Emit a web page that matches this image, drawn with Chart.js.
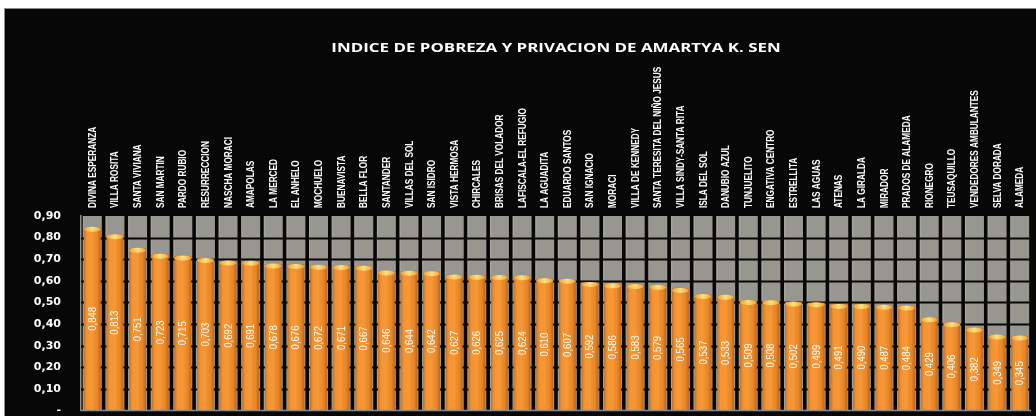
<!DOCTYPE html>
<html>
<head>
  <title>Indice de pobreza</title>
  <script src="https://cdn.jsdelivr.net/npm/chart.js"></script>
  <style>
    html, body {
      margin: 0;
      padding: 0;
      background: #fff;
      width: 1036px;
      height: 416px;
      overflow: hidden;
    }
    #marco {
      position: absolute;
      left: 4px;
      top: 8px;
      width: 1031px;
      height: 407px;
      background: #070707;
      border-top: 1px solid #8a8a8a;
      border-left: 1px solid #8a8a8a;
    }
    canvas { display: block; }
  </style>
</head>
<body>
  <div id="marco">
    <canvas id="chart" width="1031" height="407"></canvas>
  </div>

  <script>
    // barrios, en el orden del grafico original
    const categorias = [
      'DIVINA ESPERANZA', 'VILLA ROSITA', 'SANTA VIVIANA', 'SAN MARTIN', 'PARDO RUBIO',
      'RESURRECCION', 'NASCHA MORACI', 'AMAPOLAS', 'LA MERCED', 'EL ANHELO',
      'MOCHUELO', 'BUENAVISTA', 'BELLA FLOR', 'SANTANDER', 'VILLAS DEL SOL',
      'SAN ISIDRO', 'VISTA HERMOSA', 'CHIRCALES', 'BRISAS DEL VOLADOR', 'LAFISCALA-EL REFUGIO',
      'LA AGUADITA', 'EDUARDO SANTOS', 'SAN IGNACIO', 'MORACI', 'VILLA DE KENNEDY',
      'SANTA TERESITA DEL NIÑO JESUS', 'VILLA SINDY-SANTA RITA', 'ISLA DEL SOL', 'DANUBIO AZUL', 'TUNJUELITO',
      'ENGATIVA CENTRO', 'ESTRELLITA', 'LAS AGUAS', 'ATENAS', 'LA GIRALDA',
      'MIRADOR', 'PRADOS DE ALAMEDA', 'RIONEGRO', 'TEUSAQUILLO', 'VENDEDORES AMBULANTES',
      'SELVA DORADA', 'ALAMEDA'
    ];

    // indice de Sen por barrio
    const indices = [
      0.848, 0.813, 0.751, 0.723, 0.715,
      0.703, 0.692, 0.691, 0.678, 0.676,
      0.672, 0.671, 0.667, 0.646, 0.644,
      0.642, 0.627, 0.626, 0.625, 0.624,
      0.610, 0.607, 0.592, 0.586, 0.583,
      0.579, 0.565, 0.537, 0.533, 0.509,
      0.508, 0.502, 0.499, 0.491, 0.490,
      0.487, 0.484, 0.429, 0.406, 0.382,
      0.349, 0.345
    ];

    // eje vertical
    const ejeMin = 0;
    const ejeMax = 0.9;
    const ejePaso = 0.1;

    const titulo = 'INDICE DE POBREZA Y PRIVACION DE AMARTYA K. SEN';

    const fuente = "'Liberation Sans', Arial, sans-serif";

    function coma(v, dec) {
      return v.toFixed(dec).replace('.', ',');
    }

    // texto girado y angosto (el original usa una letra condensada)
    function textoVertical(ctx, txt, x, y, escala, align) {
      ctx.save();
      ctx.translate(x, y);
      ctx.rotate(-Math.PI / 2);
      ctx.scale(escala, 1);
      ctx.textAlign = align;
      ctx.textBaseline = 'middle';
      ctx.fillText(txt, 0, 0);
      ctx.restore();
    }

    // columnas grises de fondo + lineas de la grilla (por debajo de las barras)
    const fondoColumnas = {
      id: 'fondoColumnas',
      beforeDatasetsDraw(chart) {
        const ctx = chart.ctx;
        const x = chart.scales.x;
        const y = chart.scales.y;
        const slot = x.width / categorias.length;
        const ancho = slot * 0.84;
        const yTop = y.getPixelForValue(ejeMax);
        const yBase = y.getPixelForValue(ejeMin);
        ctx.save();
        categorias.forEach((c, i) => {
          const cx = x.getPixelForValue(i);
          ctx.fillStyle = '#98978f';
          ctx.fillRect(cx - ancho / 2, yTop, ancho, yBase - yTop);
          ctx.fillStyle = 'rgba(255,255,255,0.12)';
          ctx.fillRect(cx - ancho / 2, yTop, 1.5, yBase - yTop);
        });
        // grilla negra
        ctx.strokeStyle = '#050505';
        ctx.lineWidth = 2;
        for (let v = ejePaso; v < ejeMax - 1e-9; v += ejePaso) {
          const py = Math.round(y.getPixelForValue(v)) + 0.5;
          ctx.beginPath();
          ctx.moveTo(chart.chartArea.left, py);
          ctx.lineTo(chart.chartArea.right, py);
          ctx.stroke();
        }
        ctx.restore();
      },
      afterDraw(chart) {
        const ctx = chart.ctx;
        const x = chart.scales.x;
        const y = chart.scales.y;
        const area = chart.chartArea;
        ctx.save();
        // linea base
        ctx.strokeStyle = '#8c8c8c';
        ctx.lineWidth = 1.5;
        const py = y.getPixelForValue(ejeMin);
        ctx.beginPath();
        ctx.moveTo(area.left, py);
        ctx.lineTo(area.right, py);
        ctx.stroke();

        // titulo
        ctx.fillStyle = '#ffffff';
        ctx.font = "bold 13px 'Open Sans', sans-serif";
        ctx.save();
        ctx.translate((area.left + area.right) / 2, 39);
        ctx.scale(1.3, 1);
        ctx.textAlign = 'center';
        ctx.textBaseline = 'middle';
        ctx.fillText(titulo, 0, 0);
        ctx.restore();

        // nombres de los barrios
        ctx.font = 'bold 11px ' + fuente;
        categorias.forEach((c, i) => {
          textoVertical(ctx, c, x.getPixelForValue(i) + 0.5, area.top - 8, 0.75, 'left');
        });
        ctx.restore();
      }
    };

    // brillo de las barras naranjas y etiquetas con el valor
    const brilloYValores = {
      id: 'brilloYValores',
      afterDatasetDraw(chart, args) {
        if (args.index !== 0) return;
        const ctx = chart.ctx;
        const meta = chart.getDatasetMeta(0);
        ctx.save();
        meta.data.forEach((bar, i) => {
          const p = bar.getProps(['x', 'y', 'base', 'width'], true);
          const l = p.x - p.width / 2;
          const r = p.x + p.width / 2;
          // sombreado lateral
          const g = ctx.createLinearGradient(l, 0, r, 0);
          g.addColorStop(0, 'rgba(140,60,0,0.45)');
          g.addColorStop(0.25, 'rgba(255,200,120,0.10)');
          g.addColorStop(0.5, 'rgba(255,200,120,0.18)');
          g.addColorStop(0.8, 'rgba(140,60,0,0.10)');
          g.addColorStop(1, 'rgba(140,60,0,0.50)');
          ctx.fillStyle = g;
          ctx.fillRect(l, p.y, p.width, p.base - p.y);
          // tapa superior
          const tg = ctx.createLinearGradient(l, 0, r, 0);
          tg.addColorStop(0, '#f0a030');
          tg.addColorStop(0.5, '#ffe080');
          tg.addColorStop(1, '#f0a030');
          ctx.fillStyle = tg;
          ctx.beginPath();
          ctx.ellipse(p.x, p.y + 2, p.width / 2, 2.5, 0, 0, Math.PI * 2);
          ctx.fill();

          // valor
          ctx.fillStyle = '#ffffff';
          ctx.font = '11px ' + fuente;
          textoVertical(ctx, coma(indices[i], 3), p.x + 0.5, (p.y + p.base) / 2, 0.87, 'center');
        });
        ctx.restore();
      }
    };

    const ctx = document.getElementById('chart').getContext('2d');
    const chart = new Chart(ctx, {
      type: 'bar',
      data: {
        labels: categorias,
        datasets: [{
          label: 'Indice de Sen',
          data: indices,
          backgroundColor: '#f48e2a',
          borderWidth: 0,
          barPercentage: 0.74,
          categoryPercentage: 1
        }]
      },
      options: {
        responsive: false,
        animation: false,
        layout: {
          padding: { top: 57, right: 5, bottom: 5, left: 0 }
        },
        plugins: {
          legend: { display: false },
          tooltip: { enabled: false },
          title: { display: false }
        },
        scales: {
          x: {
            position: 'top',
            grid: { display: false, drawTicks: false },
            border: { display: false },
            ticks: { display: false },
            afterFit(scale) {
              scale.height = 150;
            }
          },
          y: {
            min: ejeMin,
            max: ejeMax,
            // separacion de las etiquetas con tickLength (padding agranda el eje en vertical)
            grid: { display: false, drawTicks: true, tickLength: 20 },
            border: { display: true, color: '#8c8c8c', width: 1.5 },
            ticks: {
              stepSize: ejePaso,
              color: '#ffffff',
              padding: 0,
              font: { family: "'DejaVu Sans', sans-serif", size: 11, weight: 'bold', lineHeight: 1 },
              callback: v => (Math.abs(v) < 1e-9 ? '-' : coma(v, 2))
            },
            afterFit(scale) {
              scale.width = 76;
            }
          }
        }
      },
      plugins: [fondoColumnas, brilloYValores]
    });
  </script>
</body>
</html>
